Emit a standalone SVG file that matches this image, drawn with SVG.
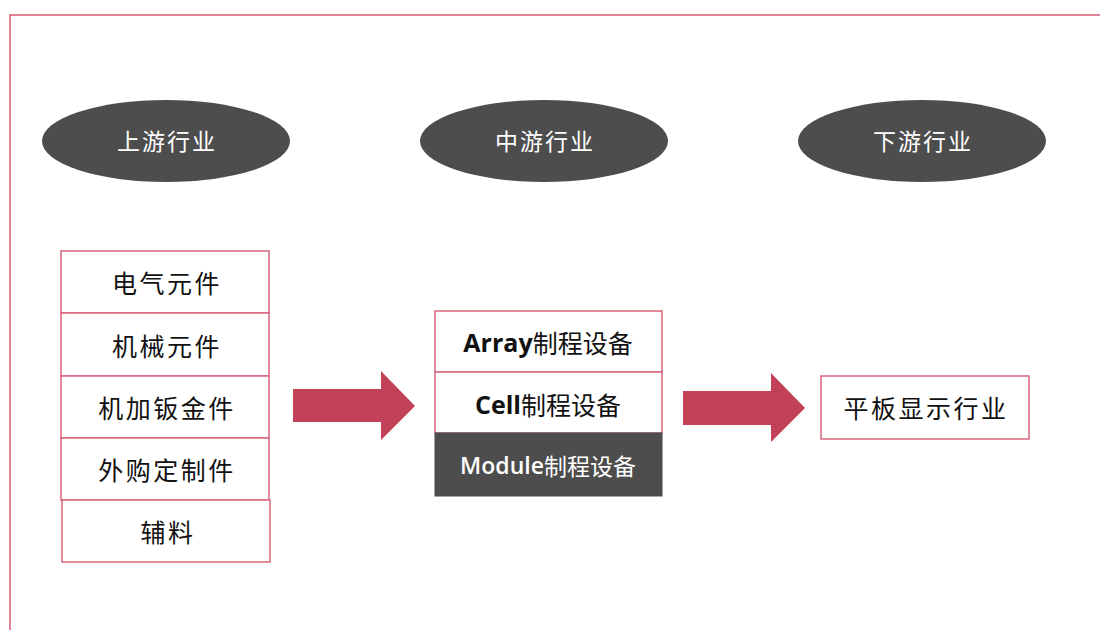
<svg xmlns="http://www.w3.org/2000/svg" width="1100" height="630" viewBox="0 0 1100 630">
<style>
.frame{stroke:#d65a74;stroke-width:1.5;fill:none}
.oval{fill:#4d4d4d}
.otxt{fill:#ffffff;font-family:"Noto Sans CJK SC","Noto Sans",sans-serif;font-size:23px;letter-spacing:2px;text-anchor:middle;dominant-baseline:central}
.box{fill:#ffffff;stroke:#d9657c;stroke-width:1.5}
.dbox{fill:#4d4d4d;stroke:#4d4d4d;stroke-width:1}
.btxt{fill:#111111;font-family:"Noto Sans CJK SC","Noto Sans",sans-serif;font-size:25px;text-anchor:middle;dominant-baseline:central}
.sp{letter-spacing:2.5px}
.lat{font-family:"Open Sans","Noto Sans",sans-serif;font-weight:bold}
.arrow{fill:#c14159}
</style>
<rect width="1100" height="630" fill="#ffffff"/>
<path class="frame" d="M10 630 V15 H1100"/>
<g id="upstream-label"><ellipse class="oval" cx="166" cy="141" rx="124" ry="41"/><text class="otxt" x="167" y="140">上游行业</text></g>
<g id="midstream-label"><ellipse class="oval" cx="544" cy="141" rx="124" ry="41"/><text class="otxt" x="545" y="140">中游行业</text></g>
<g id="downstream-label"><ellipse class="oval" cx="922" cy="141" rx="124" ry="41"/><text class="otxt" x="923" y="140">下游行业</text></g>
<g id="up1"><rect class="box" x="61" y="251" width="208" height="62"/><text class="btxt sp" x="167" y="282">电气元件</text></g>
<g id="up2"><rect class="box" x="61" y="313" width="208" height="63"/><text class="btxt sp" x="167" y="345">机械元件</text></g>
<g id="up3"><rect class="box" x="61" y="376" width="208" height="62"/><text class="btxt sp" x="167" y="407">机加钣金件</text></g>
<g id="up4"><rect class="box" x="61" y="438" width="208" height="62"/><text class="btxt sp" x="167" y="469">外购定制件</text></g>
<g id="up5"><rect class="box" x="62" y="500" width="208" height="62"/><text class="btxt sp" x="168" y="531">辅料</text></g>
<g id="mid1"><rect class="box" x="435" y="311" width="227" height="61"/><text class="btxt" x="548" y="342"><tspan class="lat">Array</tspan>制程设备</text></g>
<g id="mid2"><rect class="box" x="435" y="372" width="227" height="61"/><text class="btxt" x="548" y="404"><tspan class="lat">Cell</tspan>制程设备</text></g>
<g id="mid3"><rect class="dbox" x="435" y="433" width="227" height="63"/><text class="btxt" x="548" y="465" style="fill:#ffffff;font-size:23px"><tspan class="lat" style="font-weight:600">Module</tspan>制程设备</text></g>
<g id="down1"><rect class="box" x="821" y="376" width="208" height="63"/><text class="btxt sp" x="926" y="407">平板显示行业</text></g>
<g id="connectors">
<polygon class="arrow" points="293,389 381,389 381,371 415,406 381,440 381,422 293,422"/>
<polygon class="arrow" points="683,391 771,391 771,373 805,408 771,442 771,425 683,425"/>
</g>
</svg>
